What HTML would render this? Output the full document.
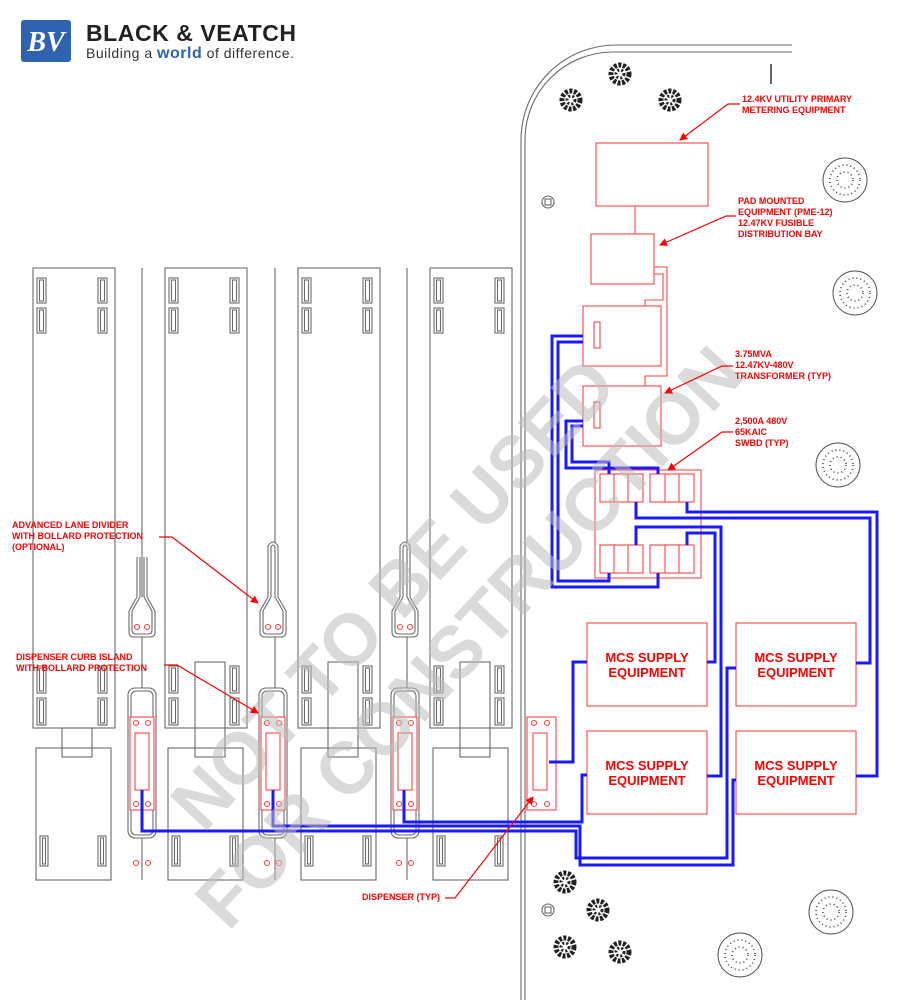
<!DOCTYPE html>
<html><head><meta charset="utf-8"><style>
html,body{margin:0;padding:0;background:#fff;}
svg{display:block;}
.g{fill:none;stroke:#6a6a6a;stroke-width:1.1;}
.gw{fill:#fff;stroke:#6a6a6a;stroke-width:1.1;}
.r{fill:none;stroke:#f44;stroke-width:1.1;}
.rw{fill:#fff;stroke:#f44;stroke-width:1.1;}
.b{fill:none;stroke:#1a1aff;stroke-width:3;stroke-linejoin:miter;}
.lbl{font-family:"Liberation Sans",sans-serif;font-weight:bold;font-size:9px;fill:#f00;}
.mcs{font-family:"Liberation Sans",sans-serif;font-weight:bold;font-size:13px;fill:#f00;}
.ld{fill:none;stroke:#f00;stroke-width:1.2;}
.sh{fill:none;stroke:#222;stroke-width:5;stroke-dasharray:3 1.5;}
.sh2{fill:none;stroke:#222;stroke-width:3;stroke-dasharray:2 2;}
.tr{fill:none;stroke:#555;stroke-width:1;}
.td{fill:none;stroke:#444;stroke-width:1.6;stroke-dasharray:1 3;}
</style></head><body>
<svg width="920" height="1000" viewBox="0 0 920 1000" xmlns="http://www.w3.org/2000/svg">
<defs>
<g id="bay">
 <rect class="g" x="0" y="268" width="82" height="460"/>
 <rect class="g" x="4" y="278" width="9" height="25"/><rect class="g" x="6.5" y="280" width="4" height="21"/>
 <rect class="g" x="4" y="308" width="9" height="25"/><rect class="g" x="6.5" y="310" width="4" height="21"/>
 <rect class="g" x="65" y="278" width="9" height="25"/><rect class="g" x="67.5" y="280" width="4" height="21"/>
 <rect class="g" x="65" y="308" width="9" height="25"/><rect class="g" x="67.5" y="310" width="4" height="21"/>
 <rect class="g" x="4" y="666" width="9" height="27"/><rect class="g" x="6.5" y="668" width="4" height="23"/>
 <rect class="g" x="4" y="698" width="9" height="27"/><rect class="g" x="6.5" y="700" width="4" height="23"/>
 <rect class="g" x="65" y="666" width="9" height="27"/><rect class="g" x="67.5" y="668" width="4" height="23"/>
 <rect class="g" x="65" y="698" width="9" height="27"/><rect class="g" x="67.5" y="700" width="4" height="23"/>
 <rect class="g" x="3" y="748" width="75" height="132"/>
 <rect class="g" x="7" y="836" width="8" height="30"/><rect class="g" x="9.5" y="838" width="3" height="26"/>
 <rect class="g" x="65" y="836" width="8" height="30"/><rect class="g" x="67.5" y="838" width="3" height="26"/>
</g>
<g id="island">
 <rect class="gw" x="-14" y="688" width="28" height="150" rx="7"/>
 <rect class="g" x="-11" y="691" width="22" height="144" rx="5"/>
 <rect class="rw" x="-12" y="717" width="24" height="93"/>
 <rect class="r" x="-7" y="733" width="14" height="57"/>
 <circle class="r" cx="-6" cy="723" r="2.5"/><circle class="r" cx="6" cy="723" r="2.5"/>
 <circle class="r" cx="-6" cy="804" r="2.5"/><circle class="r" cx="6" cy="804" r="2.5"/>
 <circle class="r" cx="-6" cy="863" r="2.5"/><circle class="r" cx="6" cy="863" r="2.5"/>
</g>
<g id="bulb">
 <path class="gw" d="M-5 597 L-13 611 L-13 632 Q-13 637 -8 637 L8 637 Q13 637 13 632 L13 611 L5 597"/>
 <path class="g" d="M-2 597 L-10 611 L-10 630 Q-10 634 -6 634 L6 634 Q10 634 10 630 L10 611 L2 597"/>
 <circle class="r" cx="-5" cy="627" r="2.5"/><circle class="r" cx="5" cy="627" r="2.5"/>
</g>
<g id="shrub">
 <circle class="sh" cx="0" cy="0" r="9"/><circle class="sh2" cx="0" cy="0" r="4"/>
</g>
<marker id="ah" markerWidth="8" markerHeight="8" refX="7" refY="4" orient="auto" markerUnits="userSpaceOnUse"><path d="M0 0 L8 4 L0 8 Z" fill="#f00"/></marker>
</defs>

<!-- logo -->
<rect x="21" y="20" width="50" height="42" rx="3" fill="#2f62b0"/>
<text x="46" y="51" text-anchor="middle" font-family="Liberation Serif,serif" font-weight="bold" font-style="italic" font-size="28" fill="#fff">BV</text>
<text x="86" y="41" font-family="Liberation Sans,sans-serif" font-weight="bold" font-size="23" fill="#222" textLength="210">BLACK &amp; VEATCH</text>
<text x="86" y="58" font-family="Liberation Sans,sans-serif" font-size="14" fill="#333" textLength="208">Building a <tspan font-weight="bold" fill="#2f62b0" font-size="16">world</tspan> of difference.</text>

<!-- lane center lines -->
<line class="g" x1="142" y1="268" x2="142" y2="880"/>
<line class="g" x1="275" y1="268" x2="275" y2="880"/>
<line class="g" x1="407" y1="268" x2="407" y2="880"/>

<use href="#bay" x="33"/><use href="#bay" x="165"/><use href="#bay" x="298"/><use href="#bay" x="430"/>
<rect class="g" x="62" y="728" width="30" height="29"/>
<rect class="g" x="195" y="662" width="30" height="95"/>
<rect class="g" x="328" y="662" width="30" height="95"/>
<rect class="g" x="460" y="662" width="30" height="95"/>

<!-- lane dividers -->
<line class="g" x1="137" y1="557" x2="137" y2="598"/><line class="g" x1="147" y1="557" x2="147" y2="598"/>
<line class="g" x1="140" y1="557" x2="140" y2="598"/><line class="g" x1="144" y1="557" x2="144" y2="598"/>
<use href="#bulb" x="142"/>
<path class="gw" d="M268 598 L268 546 Q273 538 278 546 L278 598"/>
<path class="g" d="M271 598 L271 547 Q273 543 275 547 L275 598"/>
<use href="#bulb" x="273"/>
<path class="gw" d="M400 598 L400 546 Q405 538 410 546 L410 598"/>
<path class="g" d="M403 598 L403 547 Q405 543 407 547 L407 598"/>
<use href="#bulb" x="405"/>

<use href="#island" x="142"/><use href="#island" x="273"/><use href="#island" x="405"/>
<rect class="rw" x="527" y="717" width="29" height="93"/>
<rect class="r" x="533" y="733" width="14" height="57"/>
<circle class="r" cx="534" cy="723" r="2.5"/><circle class="r" cx="547" cy="723" r="2.5"/>
<circle class="r" cx="534" cy="804" r="2.5"/><circle class="r" cx="547" cy="804" r="2.5"/>

<!-- site boundary -->
<path class="g" d="M521 1000 V140 A95 95 0 0 1 616 45 H792"/>
<path class="g" d="M525 1000 V140 A88 88 0 0 1 613 52 H792"/>
<line x1="771" y1="64" x2="771" y2="84" stroke="#666" stroke-width="2"/>

<!-- shrubs -->
<use href="#shrub" x="571" y="100"/><use href="#shrub" x="620" y="74"/><use href="#shrub" x="670" y="100"/>
<use href="#shrub" x="565" y="882"/><use href="#shrub" x="598" y="910"/><use href="#shrub" x="565" y="947"/><use href="#shrub" x="620" y="952"/>
<!-- trees -->
<g>
<circle class="tr" cx="845" cy="180" r="22"/><circle class="td" cx="845" cy="180" r="15"/><circle class="td" cx="845" cy="180" r="8"/>
<circle class="tr" cx="855" cy="293" r="22"/><circle class="td" cx="855" cy="293" r="15"/><circle class="td" cx="855" cy="293" r="8"/>
<circle class="tr" cx="838" cy="465" r="22"/><circle class="td" cx="838" cy="465" r="15"/><circle class="td" cx="838" cy="465" r="8"/>
<circle class="tr" cx="831" cy="912" r="22"/><circle class="td" cx="831" cy="912" r="15"/><circle class="td" cx="831" cy="912" r="8"/>
<circle class="tr" cx="740" cy="955" r="22"/><circle class="td" cx="740" cy="955" r="15"/><circle class="td" cx="740" cy="955" r="8"/>
</g>
<circle class="g" cx="548" cy="202" r="6"/><rect class="g" x="545" y="199" width="6" height="6"/>
<circle class="g" cx="548" cy="910" r="6"/><rect class="g" x="545" y="907" width="6" height="6"/>

<!-- equipment -->
<rect class="r" x="596" y="143" width="112" height="63"/>
<line class="r" x1="635" y1="206" x2="635" y2="234"/>
<rect class="r" x="591" y="234" width="63" height="50"/>
<rect class="r" x="583" y="306" width="78" height="60"/>
<rect class="r" x="594" y="322" width="6" height="26"/>
<rect class="r" x="583" y="386" width="78" height="60"/>
<rect class="r" x="594" y="402" width="6" height="26"/>
<path class="r" d="M654 267 H667 V376 H645 V386"/>
<path class="r" d="M654 274 H663 V300 H645 V306"/>
<rect class="r" x="595" y="470" width="106" height="108"/>
<g class="r">
<rect x="600" y="474" width="43" height="28"/><line x1="614" y1="474" x2="614" y2="502"/><line x1="628" y1="474" x2="628" y2="502"/>
<rect x="650" y="474" width="44" height="28"/><line x1="665" y1="474" x2="665" y2="502"/><line x1="679" y1="474" x2="679" y2="502"/>
<rect x="600" y="545" width="43" height="28"/><line x1="614" y1="545" x2="614" y2="573"/><line x1="628" y1="545" x2="628" y2="573"/>
<rect x="650" y="545" width="44" height="28"/><line x1="665" y1="545" x2="665" y2="573"/><line x1="679" y1="545" x2="679" y2="573"/>
</g>

<!-- MCS -->
<rect class="r" x="587" y="623" width="120" height="83"/>
<rect class="r" x="587" y="731" width="120" height="83"/>
<rect class="r" x="736" y="623" width="120" height="83"/>
<rect class="r" x="736" y="731" width="120" height="83"/>
<text class="mcs" x="647" y="662" text-anchor="middle">MCS SUPPLY</text><text class="mcs" x="647" y="677" text-anchor="middle">EQUIPMENT</text>
<text class="mcs" x="647" y="770" text-anchor="middle">MCS SUPPLY</text><text class="mcs" x="647" y="785" text-anchor="middle">EQUIPMENT</text>
<text class="mcs" x="796" y="662" text-anchor="middle">MCS SUPPLY</text><text class="mcs" x="796" y="677" text-anchor="middle">EQUIPMENT</text>
<text class="mcs" x="796" y="770" text-anchor="middle">MCS SUPPLY</text><text class="mcs" x="796" y="785" text-anchor="middle">EQUIPMENT</text>

<!-- blue cables -->
<path class="b" d="M583 336 H552 V587 H658 V573"/>
<path class="b" d="M583 342 H558 V581 H609 V573"/>
<path class="b" d="M583 421 H566 V468 H658 V474"/>
<path class="b" d="M583 426 H572 V462 H609 V474"/>
<path class="b" d="M636 502 V518 H870 V663 H856"/>
<path class="b" d="M687 502 V512 H877 V776 H856"/>
<path class="b" d="M636 545 V527 H721 V776 H707"/>
<path class="b" d="M687 545 V533 H715 V662 H707"/>
<path class="b" d="M549 762 H573 V662 H587"/>
<path class="b" d="M404 790 V822 H582 V775 H587"/>
<path class="b" d="M273 790 V826 H580 V865 H733 V780 H736"/>
<path class="b" d="M142 790 V831 H576 V858 H727 V668 H736"/>

<!-- watermark -->
<g transform="rotate(-47 440 610)" font-family="Liberation Sans,sans-serif" font-weight="bold" font-size="74" fill="#bbb" fill-opacity="0.55" text-anchor="middle">
<text x="420" y="590" textLength="610" lengthAdjust="spacingAndGlyphs">NOT TO BE USED</text>
<text x="440" y="675" textLength="760" lengthAdjust="spacingAndGlyphs">FOR CONSTRUCTION</text>
</g>

<!-- labels -->
<text class="lbl" x="742" y="102">12.4KV UTILITY PRIMARY</text>
<text class="lbl" x="742" y="113">METERING EQUIPMENT</text>
<path class="ld" d="M740 104 H728 L680 140" marker-end="url(#ah)"/>
<text class="lbl" x="738" y="204">PAD MOUNTED</text>
<text class="lbl" x="738" y="215">EQUIPMENT (PME-12)</text>
<text class="lbl" x="738" y="226">12.47KV FUSIBLE</text>
<text class="lbl" x="738" y="237">DISTRIBUTION BAY</text>
<path class="ld" d="M736 216 H726 L660 245" marker-end="url(#ah)"/>
<text class="lbl" x="735" y="357">3.75MVA</text>
<text class="lbl" x="735" y="368">12.47KV-480V</text>
<text class="lbl" x="735" y="379">TRANSFORMER (TYP)</text>
<path class="ld" d="M733 366 H722 L665 393" marker-end="url(#ah)"/>
<text class="lbl" x="735" y="424">2,500A 480V</text>
<text class="lbl" x="735" y="435">65KAIC</text>
<text class="lbl" x="735" y="446">SWBD (TYP)</text>
<path class="ld" d="M733 432 H722 L668 470" marker-end="url(#ah)"/>
<text class="lbl" x="12" y="528">ADVANCED LANE DIVIDER</text>
<text class="lbl" x="12" y="539">WITH BOLLARD PROTECTION</text>
<text class="lbl" x="12" y="550">(OPTIONAL)</text>
<path class="ld" d="M159 537 H172 L258 603" marker-end="url(#ah)"/>
<text class="lbl" x="16" y="660">DISPENSER CURB ISLAND</text>
<text class="lbl" x="16" y="671">WITH BOLLARD PROTECTION</text>
<path class="ld" d="M164 665 H177 L258 713" marker-end="url(#ah)"/>
<text class="lbl" x="362" y="900">DISPENSER (TYP)</text>
<path class="ld" d="M445 898 H455 L533 797" marker-end="url(#ah)"/>
</svg>
</body></html>
